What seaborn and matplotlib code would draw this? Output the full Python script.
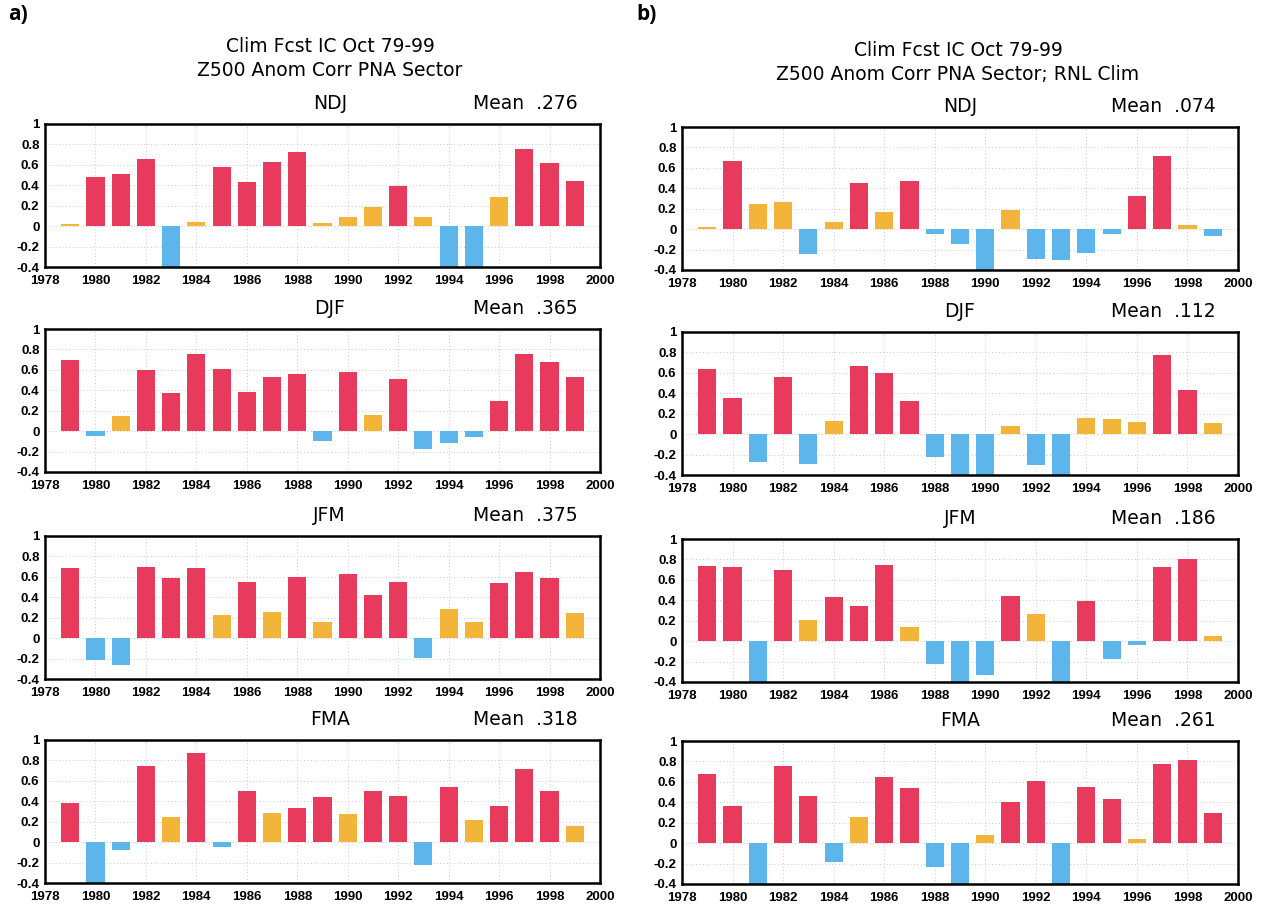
import numpy as np
import pandas as pd
import matplotlib
matplotlib.use("Agg")
import matplotlib.pyplot as plt
import seaborn as sns

# Anomaly correlation of Z500 over the PNA sector, forecasts from October ICs
years = list(range(1979, 2000))
seasons = ["NDJ", "DJF", "JFM", "FMA"]

# column a: model climatology
ndj_a = [0.02, 0.48, 0.51, 0.66, -0.41, 0.04, 0.58, 0.43, 0.63, 0.73, 0.03,
         0.09, 0.19, 0.39, 0.09, -0.41, -0.41, 0.29, 0.76, 0.62, 0.44]
djf_a = [0.70, -0.05, 0.15, 0.60, 0.37, 0.76, 0.61, 0.38, 0.53, 0.56, -0.10,
         0.58, 0.16, 0.51, -0.17, -0.12, -0.06, 0.30, 0.76, 0.68, 0.53]
jfm_a = [0.69, -0.21, -0.26, 0.70, 0.59, 0.69, 0.23, 0.55, 0.26, 0.60, 0.16,
         0.63, 0.42, 0.55, -0.19, 0.29, 0.16, 0.54, 0.65, 0.59, 0.25]
fma_a = [0.38, -0.50, -0.08, 0.75, 0.25, 0.87, -0.05, 0.50, 0.29, 0.33, 0.44,
         0.28, 0.50, 0.45, -0.22, 0.54, 0.22, 0.35, 0.72, 0.50, 0.16]
means_a = [".276", ".365", ".375", ".318"]

# column b: RNL climatology
ndj_b = [0.02, 0.67, 0.25, 0.27, -0.24, 0.07, 0.45, 0.17, 0.47, -0.05, -0.15,
         -0.71, 0.19, -0.29, -0.30, -0.23, -0.05, 0.32, 0.72, 0.04, -0.07]
djf_b = [0.64, 0.35, -0.27, 0.56, -0.29, 0.13, 0.67, 0.60, 0.32, -0.22, -0.55,
         -0.55, 0.08, -0.30, -0.56, 0.16, 0.15, 0.12, 0.77, 0.43, 0.11]
jfm_b = [0.74, 0.73, -0.68, 0.70, 0.21, 0.43, 0.34, 0.75, 0.14, -0.22, -0.69,
         -0.33, 0.44, 0.27, -0.68, 0.39, -0.17, -0.04, 0.73, 0.80, 0.05]
fma_b = [0.68, 0.36, -0.60, 0.76, 0.46, -0.18, 0.26, 0.65, 0.54, -0.23, -0.60,
         0.08, 0.40, 0.61, -0.61, 0.55, 0.43, 0.04, 0.77, 0.81, 0.30]
means_b = [".074", ".112", ".186", ".261"]

titles_a = ["Clim Fcst IC Oct 79-99", "Z500 Anom Corr PNA Sector"]
titles_b = ["Clim Fcst IC Oct 79-99", "Z500 Anom Corr PNA Sector; RNL Clim"]

yticks = [-0.4, -0.2, 0, 0.2, 0.4, 0.6, 0.8, 1]
ytick_labels = ["-0.4", "-0.2", "0", "0.2", "0.4", "0.6", "0.8", "1"]
xticks = list(range(1978, 2001, 2))

palette = {"high": "#e83a5c", "low": "#f3b43a", "neg": "#5cb6ec"}

sns.set_theme(style="white")
plt.rcParams["font.family"] = ["Liberation Sans", "DejaVu Sans"]
plt.rcParams["axes.unicode_minus"] = False
plt.rcParams["text.color"] = "black"

W, H = 1268, 906
fig = plt.figure(figsize=(W / 100, H / 100), dpi=100)
TITLE_FONT = ["DejaVu Sans"]


def px_axes(left, top, right, bottom):
    return fig.add_axes([left / W, 1 - bottom / H, (right - left) / W, (bottom - top) / H])


def panel(ax, vals, season, mean, season_x, mean_x):
    df = pd.DataFrame({"year": years, "corr": vals})
    df["cls"] = np.where(df["corr"] < 0, "neg",
                         np.where(df["corr"] < 0.3, "low", "high"))
    ax.set_axisbelow(True)
    for x in range(1980, 2000, 2):
        ax.axvline(x, color="#c8c8c8", lw=0.7, ls=(0, (1, 2.5)), zorder=0)
    for y in [-0.2, 0, 0.2, 0.4, 0.6, 0.8]:
        ax.axhline(y, color="#c8c8c8", lw=0.7, ls=(0, (1, 2.5)), zorder=0)
    sns.barplot(data=df, x="year", y="corr", hue="cls",
                hue_order=["high", "low", "neg"], palette=palette,
                native_scale=True, dodge=False, width=0.72, errorbar=None,
                saturation=1, legend=False, linewidth=0, ax=ax, zorder=2)
    ax.set_xlim(1978, 2000)
    ax.set_ylim(-0.4, 1)
    ax.set_xticks(xticks)
    ax.set_xticklabels([str(t) for t in xticks])
    ax.set_yticks(yticks)
    ax.set_yticklabels(ytick_labels)
    ax.set_xlabel("")
    ax.set_ylabel("")
    ax.tick_params(axis="both", direction="out", length=3, width=1.2,
                   color="black", labelsize=9.5, pad=1, labelcolor="black")
    ax.tick_params(axis="x", pad=2.5)
    for lab in ax.get_xticklabels() + ax.get_yticklabels():
        lab.set_fontweight("bold")
    for sp in ax.spines.values():
        sp.set_visible(True)
        sp.set_color("black")
        sp.set_linewidth(1.8)
    ax.text(season_x, 1.145, season, transform=ax.transAxes, ha="center",
            va="center", fontsize=13.5, family=TITLE_FONT, color="black")
    ax.text(mean_x, 1.145, "Mean  " + mean, transform=ax.transAxes,
            ha="center", va="center", fontsize=13.5, family=TITLE_FONT,
            color="black")


tops_a = [124, 329, 536, 740]
tops_b = [127, 332, 539, 741]
data_a = [ndj_a, djf_a, jfm_a, fma_a]
data_b = [ndj_b, djf_b, jfm_b, fma_b]

for i in range(4):
    ax = px_axes(45, tops_a[i], 600, tops_a[i] + 143)
    panel(ax, data_a[i], seasons[i], means_a[i], 0.513, 0.865)
    ax = px_axes(682, tops_b[i], 1238, tops_b[i] + 143)
    panel(ax, data_b[i], seasons[i], means_b[i], 0.50, 0.865)

fig.text(330 / W, 1 - 46 / H, titles_a[0], ha="center", va="center",
         fontsize=13.5, family=TITLE_FONT, color="black")
fig.text(330 / W, 1 - 70 / H, titles_a[1], ha="center", va="center",
         fontsize=13.5, family=TITLE_FONT, color="black")
fig.text(958 / W, 1 - 50 / H, titles_b[0], ha="center", va="center",
         fontsize=13.5, family=TITLE_FONT, color="black")
fig.text(958 / W, 1 - 75 / H, titles_b[1], ha="center", va="center",
         fontsize=13.5, family=TITLE_FONT, color="black")

fig.text(8 / W, 1 - 15 / H, "a)", ha="left", va="center", fontsize=15,
         fontweight="bold", family="Open Sans", color="black")
fig.text(636 / W, 1 - 15 / H, "b)", ha="left", va="center", fontsize=15,
         fontweight="bold", family="Open Sans", color="black")

fig.savefig("out.png", dpi=100, facecolor="white")
